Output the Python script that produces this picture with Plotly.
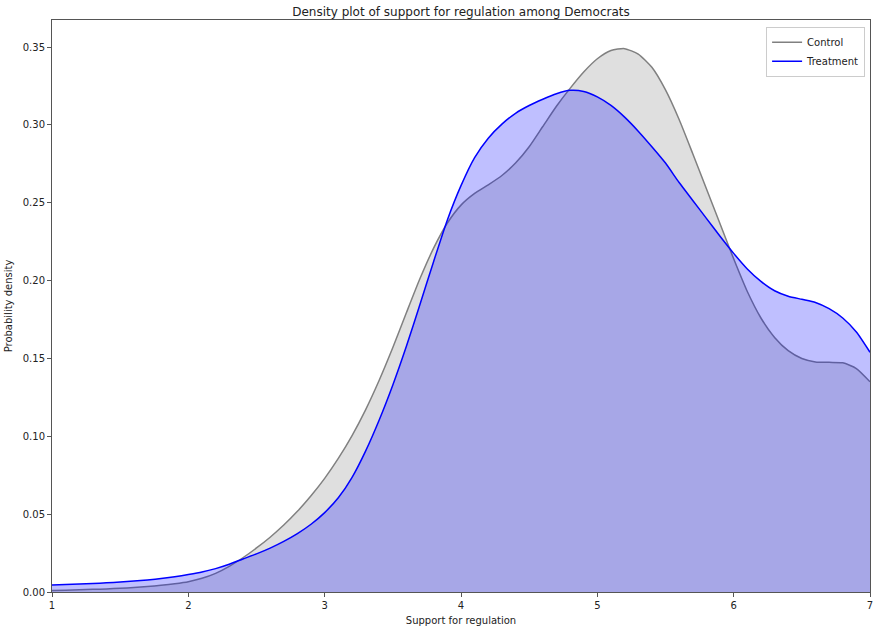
import plotly.graph_objects as go

grid_x = [round(1.0 + 0.1 * i, 1) for i in range(61)]

control_y = [0.0010, 0.0012, 0.0014, 0.0017, 0.0020, 0.0024, 0.0029, 0.0035, 0.0043, 0.0053,
             0.0066, 0.0088, 0.0120, 0.0165, 0.0220, 0.0283, 0.0352, 0.0430, 0.0518, 0.0618,
             0.0730, 0.0858, 0.1003, 0.1170, 0.1360, 0.1570, 0.1795, 0.2015, 0.2210, 0.2370,
             0.2485, 0.2560, 0.2615, 0.2675, 0.2755, 0.2860, 0.2990, 0.3120, 0.3235, 0.3340,
             0.3425, 0.3478, 0.3490, 0.3455, 0.3370, 0.3225, 0.3035, 0.2815, 0.2590, 0.2365,
             0.2140, 0.1930, 0.1760, 0.1635, 0.1550, 0.1500, 0.1478, 0.1475, 0.1472, 0.1435,
             0.1350]

treat_y = [0.0045, 0.0048, 0.0052, 0.0055, 0.0059, 0.0064, 0.0070, 0.0077, 0.0086, 0.0098,
           0.0112, 0.0128, 0.0150, 0.0178, 0.0212, 0.0245, 0.0282, 0.0325, 0.0375, 0.0435,
           0.0510, 0.0605, 0.0735, 0.0905, 0.1105, 0.1330, 0.1580, 0.1850, 0.2125, 0.2390,
           0.2610, 0.2790, 0.2915, 0.3005, 0.3075, 0.3125, 0.3165, 0.3200, 0.3222, 0.3215,
           0.3180, 0.3125, 0.3050, 0.2960, 0.2860, 0.2755, 0.2630, 0.2515, 0.2400, 0.2285,
           0.2175, 0.2075, 0.1995, 0.1935, 0.1900, 0.1880, 0.1860, 0.1820, 0.1760, 0.1670,
           0.1540]

x_ticks = [1, 2, 3, 4, 5, 6, 7]
y_ticks = [0.0, 0.05, 0.10, 0.15, 0.20, 0.25, 0.30, 0.35]

fig = go.Figure()
fig.add_trace(go.Scatter(x=grid_x, y=control_y, mode="lines", fill="tozeroy",
                         fillcolor="rgba(128,128,128,0.25)",
                         line=dict(color="gray", width=1.5, shape="spline", smoothing=0.6),
                         showlegend=False, hoverinfo="skip"))
fig.add_trace(go.Scatter(x=grid_x, y=treat_y, mode="lines", fill="tozeroy",
                         fillcolor="rgba(0,0,255,0.25)",
                         line=dict(color="blue", width=1.5, shape="spline", smoothing=0.6),
                         showlegend=False, hoverinfo="skip"))
fig.add_trace(go.Scatter(x=[None], y=[None], mode="lines", name="Control",
                         line=dict(color="gray", width=1.5)))
fig.add_trace(go.Scatter(x=[None], y=[None], mode="lines", name="Treatment",
                         line=dict(color="blue", width=1.5)))

axis_common = dict(showline=True, linecolor="#555", linewidth=1, mirror=True, ticks="outside",
                   ticklen=4, tickcolor="#555", showgrid=False, zeroline=False,
                   tickfont=dict(size=10, color="#222"))

fig.update_layout(
    width=877, height=630,
    margin=dict(l=52, r=4, t=20, b=38),
    paper_bgcolor="white", plot_bgcolor="white",
    font=dict(family="DejaVu Sans", size=10, color="#222"),
    title=dict(text="Density plot of support for regulation among Democrats",
               x=0.5, xref="paper", xanchor="center", y=0.982, yanchor="middle",
               font=dict(size=12, color="#222")),
    xaxis=dict(range=[1, 7], tickvals=x_ticks, ticktext=[str(v) for v in x_ticks],
               title=dict(text="Support for regulation", font=dict(size=10), standoff=6), **axis_common),
    yaxis=dict(range=[0, 0.3674], tickvals=y_ticks, tickformat=".2f",
               title=dict(text="Probability density", font=dict(size=10), standoff=8), **axis_common),
    legend=dict(x=0.994, y=0.988, xanchor="right", yanchor="top", bgcolor="white",
                bordercolor="#ccc", borderwidth=1, font=dict(size=10), tracegroupgap=0),
)

fig.write_html("out.html")
